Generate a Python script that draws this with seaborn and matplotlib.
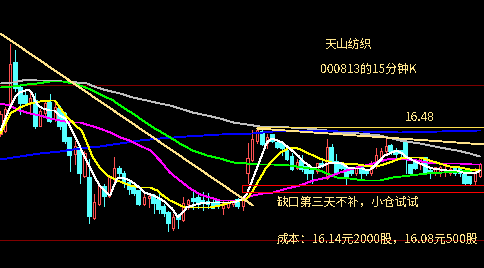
import matplotlib
matplotlib.use("Agg")
import matplotlib.pyplot as plt
from matplotlib.patches import Rectangle
import numpy as np
import pandas as pd
import seaborn as sns

# ---------------- data (15-minute bars of 000813) ----------------
opens = [16.41, 16.44, 16.72, 17.12, 16.87, 16.79, 16.72, 16.74, 16.49, 16.62,
         16.72, 16.56, 16.66, 16.61, 16.36, 16.21, 16.26, 15.99, 15.97, 15.57,
         15.71, 15.87, 15.79, 15.96, 16.06, 16.01, 15.91, 15.87, 15.84, 15.71,
         15.77, 15.77, 15.74, 15.67, 15.62, 15.46, 15.59, 15.55, 15.71, 15.76,
         15.76, 15.74, 15.72, 15.71, 15.74, 15.67, 15.68, 15.71, 15.74, 15.69,
         16.01, 16.15, 16.34, 16.42, 16.32, 16.39, 16.32, 16.31, 16.24, 16.17,
         16.07, 16.14, 16.07, 16.04, 16.04, 16.11, 15.97, 16.26, 16.12, 16.11,
         16.06, 16.04, 16.01, 16.07, 16.04, 16.01, 16.11, 16.16, 16.24, 16.29,
         16.24, 16.24, 16.33, 16.09, 16.12, 16.11, 16.16, 16.04, 16.01, 16.02,
         16.03, 16.01, 16.05, 16.06, 15.99, 15.97, 15.94, 15.99]
highs = [16.64, 16.68, 17.31, 17.25, 16.91, 16.86, 16.82, 16.82, 16.66, 16.74,
         16.81, 16.74, 16.69, 16.63, 16.38, 16.34, 16.29, 16.24, 16.16, 15.81,
         15.90, 15.91, 16.00, 16.17, 16.09, 16.04, 15.94, 15.89, 15.85, 15.81,
         15.82, 15.81, 15.81, 15.71, 15.64, 15.61, 15.61, 15.78, 15.76, 15.84,
         15.82, 15.83, 15.82, 15.78, 15.76, 15.74, 15.74, 15.75, 15.77, 15.79,
         16.32, 16.45, 16.47, 16.47, 16.41, 16.41, 16.34, 16.32, 16.27, 16.22,
         16.16, 16.19, 16.09, 16.07, 16.12, 16.14, 16.36, 16.31, 16.21, 16.13,
         16.07, 16.06, 16.09, 16.11, 16.06, 16.14, 16.27, 16.27, 16.35, 16.31,
         16.26, 16.24, 16.34, 16.11, 16.14, 16.17, 16.17, 16.06, 16.08, 16.09,
         16.09, 16.07, 16.06, 16.07, 16.02, 15.99, 16.07, 16.12]
lows = [16.39, 16.42, 16.70, 16.84, 16.61, 16.70, 16.61, 16.47, 16.49, 16.60,
        16.53, 16.54, 16.46, 16.32, 16.04, 16.11, 15.92, 15.98, 15.52, 15.56,
        15.70, 15.69, 15.78, 15.94, 15.99, 15.88, 15.81, 15.80, 15.70, 15.70,
        15.68, 15.62, 15.62, 15.59, 15.44, 15.45, 15.46, 15.54, 15.66, 15.66,
        15.67, 15.65, 15.67, 15.67, 15.67, 15.61, 15.67, 15.69, 15.67, 15.65,
        15.92, 16.14, 16.32, 16.30, 16.26, 16.33, 16.26, 16.19, 16.15, 16.05,
        16.06, 16.04, 15.96, 15.92, 16.02, 16.08, 15.96, 16.12, 16.01, 16.06,
        15.91, 16.00, 16.00, 15.97, 16.00, 16.00, 16.07, 16.14, 16.22, 16.21,
        16.17, 16.16, 16.01, 16.01, 16.06, 16.06, 16.02, 15.97, 16.00, 15.99,
        15.99, 16.00, 16.00, 15.99, 15.91, 15.91, 15.91, 15.98]
closes = [16.61, 16.66, 17.11, 16.87, 16.72, 16.72, 16.76, 16.49, 16.64, 16.72,
          16.54, 16.67, 16.49, 16.34, 16.19, 16.29, 16.01, 16.21, 15.59, 15.72,
          15.89, 15.79, 15.99, 16.07, 16.01, 15.92, 15.86, 15.82, 15.71, 15.78,
          15.79, 15.72, 15.66, 15.62, 15.52, 15.57, 15.56, 15.72, 15.75, 15.74,
          15.71, 15.72, 15.71, 15.67, 15.69, 15.72, 15.72, 15.73, 15.69, 15.75,
          16.16, 16.35, 16.44, 16.31, 16.38, 16.34, 16.28, 16.26, 16.16, 16.06,
          16.12, 16.06, 16.02, 16.02, 16.11, 16.09, 16.27, 16.14, 16.02, 16.07,
          15.97, 16.01, 16.07, 16.01, 16.01, 16.07, 16.19, 16.24, 16.29, 16.24,
          16.21, 16.22, 16.16, 16.02, 16.07, 16.16, 16.02, 16.01, 16.07, 16.07,
          16.06, 16.06, 16.01, 16.01, 15.92, 15.92, 16.01, 16.11]

# moving-average curves (bar index, price)
ma5_idx = [0, 1.9, 2.9, 3.9, 5.6, 6.4, 7.0, 7.6, 8.6, 10.0, 11.0, 12.0, 13.1, 14.1, 15.5,
           16.7, 17.7, 19.1, 20.1, 21.6, 22.2, 22.8, 23.6, 24.6, 26.2, 27.6, 29.2, 30.9,
           32.9, 34.7, 35.9, 36.9, 37.7, 38.8, 40.4, 42.4, 44.4, 47.1, 48.9, 49.9, 51.1,
           52.5, 53.9, 54.9, 56.0, 57.0, 58.0, 59.0, 60.2, 61.6, 63.0, 64.3, 65.3, 66.3,
           67.7, 69.1, 70.3, 71.8, 73.2, 74.4, 75.2, 76.4, 77.8, 79.2, 80.3, 81.3, 82.3,
           83.5, 84.9, 86.3, 87.5, 88.9, 90.4, 92.4, 93.6, 95.0, 96.4, 97]
ma5_val = [16.44, 16.67, 16.77, 16.82, 16.85, 16.81, 16.74, 16.69, 16.66, 16.64, 16.64,
           16.59, 16.56, 16.48, 16.34, 16.21, 16.11, 15.97, 15.89, 15.81, 15.79, 15.87,
           15.96, 15.97, 15.94, 15.89, 15.82, 15.79, 15.74, 15.66, 15.57, 15.62, 15.67,
           15.69, 15.71, 15.72, 15.72, 15.72, 15.75, 15.81, 15.96, 16.14, 16.32, 16.36,
           16.34, 16.32, 16.28, 16.24, 16.19, 16.12, 16.07, 16.07, 16.09, 16.11, 16.12,
           16.11, 16.07, 16.06, 16.06, 16.04, 16.06, 16.12, 16.19, 16.22, 16.24, 16.21,
           16.17, 16.14, 16.11, 16.08, 16.06, 16.05, 16.04, 16.04, 16.02, 16.01, 16.02, 16.04]

ma10_idx = [0, 2.0, 3.9, 6.0, 8.0, 10.0, 11.0, 12.0, 13.5, 14.7, 15.5, 16.1, 16.7, 17.7,
            18.7, 20.1, 21.6, 22.8, 24.2, 25.2, 26.2, 28.2, 30.3, 31.7, 32.9, 34.3, 35.7,
            36.9, 38.4, 40.4, 42.4, 44.4, 46.5, 48.5, 49.9, 51.1, 52.5, 53.7, 55.2, 56.6,
            58.6, 60.2, 61.6, 64.1, 65.7, 67.1, 69.7, 72.4, 74.8, 76.8, 78.8, 80.9, 82.9,
            84.9, 86.9, 88.9, 91.0, 93.0, 95.0, 97]
ma10_val = [16.41, 16.61, 16.67, 16.71, 16.73, 16.74, 16.74, 16.67, 16.57, 16.52, 16.47,
            16.46, 16.41, 16.29, 16.17, 16.07, 15.99, 15.96, 15.93, 15.91, 15.89, 15.87,
            15.87, 15.84, 15.79, 15.74, 15.71, 15.68, 15.67, 15.67, 15.67, 15.69, 15.72,
            15.74, 15.76, 15.84, 15.96, 16.06, 16.15, 16.22, 16.27, 16.26, 16.23, 16.17,
            16.14, 16.12, 16.11, 16.10, 16.08, 16.09, 16.12, 16.16, 16.17, 16.17, 16.14,
            16.11, 16.08, 16.07, 16.05, 16.04]

ma20_idx = [0, 1.9, 3.9, 6.0, 8.0, 10.0, 12.0, 14.1, 16.1, 18.1, 20.1, 22.2, 24.2, 26.2,
            28.2, 30.3, 32.3, 34.3, 36.3, 38.4, 40.4, 42.4, 44.4, 48.5, 49.9, 51.1, 53.1,
            55.2, 58.0, 60.6, 63.3, 66.1, 68.7, 71.4, 73.8, 75.4, 78.2, 80.3, 82.3, 84.3,
            86.3, 88.9, 93.0, 95.6, 97]
ma20_val = [16.71, 16.69, 16.64, 16.61, 16.59, 16.56, 16.54, 16.52, 16.52, 16.49, 16.46,
            16.42, 16.37, 16.34, 16.29, 16.24, 16.14, 16.02, 15.94, 15.86, 15.80, 15.77,
            15.74, 15.74, 15.77, 15.79, 15.81, 15.82, 15.86, 15.89, 15.94, 15.97, 16.02,
            16.06, 16.09, 16.11, 16.15, 16.16, 16.15, 16.14, 16.12, 16.11, 16.11, 16.10, 16.10]

ma30_idx = [0, 2.5, 5.4, 7.4, 10.0, 12.6, 14.7, 16.7, 18.7, 20.7, 22.8, 24.8, 26.8, 28.8,
            30.9, 33.7, 36.3, 38.9, 41.8, 44.4, 47.1, 49.9, 52.5, 55.2, 58.6, 61.2, 64.1,
            66.1, 68.1, 70.7, 73.8, 76.8, 79.4, 82.9, 86.3, 89.6, 93.0, 95.6, 97]
ma30_val = [16.87, 16.88, 16.90, 16.91, 16.93, 16.93, 16.91, 16.88, 16.84, 16.79, 16.74,
            16.67, 16.61, 16.54, 16.47, 16.39, 16.31, 16.24, 16.19, 16.16, 16.12, 16.11,
            16.10, 16.10, 16.09, 16.07, 16.05, 16.01, 15.97, 15.96, 15.94, 15.94, 15.97,
            15.99, 16.01, 16.02, 16.03, 16.04, 16.05]

ma60_idx = [0, 2.5, 5.4, 7.4, 10.0, 12.6, 15.5, 17.5, 19.5, 21.6, 24.2, 26.8, 29.6, 32.3,
            34.3, 36.3, 38.9, 41.8, 44.4, 47.1, 49.9, 52.5, 55.2, 62.0, 66.1, 68.7, 72.8,
            76.8, 80.9, 84.9, 88.9, 92.4, 95.0, 97]
ma60_val = [16.91, 16.92, 16.95, 16.94, 16.94, 16.93, 16.92, 16.91, 16.87, 16.84, 16.81,
            16.77, 16.74, 16.71, 16.69, 16.66, 16.62, 16.59, 16.56, 16.52, 16.50, 16.48,
            16.48, 16.46, 16.44, 16.42, 16.41, 16.39, 16.34, 16.31, 16.27, 16.24, 16.21, 16.18]

ma120_idx = [0, 3.9, 8.0, 12.0, 16.1, 20.1, 24.2, 28.2, 32.3, 37.7, 44.4, 51.1, 55.2,
             62.0, 68.7, 72.8, 80.9, 88.9, 97]
ma120_val = [16.15, 16.18, 16.21, 16.23, 16.26, 16.28, 16.31, 16.34, 16.36, 16.38, 16.40,
             16.41, 16.43, 16.44, 16.43, 16.43, 16.42, 16.43, 16.44]

# drawn studies
trend_down_idx = [0, 51.1]
trend_down_val = [17.41, 15.69]
trend_top_idx = [51.9, 98.1]
trend_top_val = [16.46, 16.30]
resist_level = 16.48
resist_start = 51.9
grid_levels = [16.90, 15.35]
gap_start, gap_end = 48.9, 97.9
gap_low, gap_high = 15.83, 15.89

title_name = "天山纺织"
title_sub = "000813的15分钟K"
resist_label = "16.48"
note1 = "缺口第三天不补，小仓试试"
note2 = "成本：16.14元2000股，16.08元500股"

# ---------------- drawing ----------------
sns.set_style("dark", {"axes.facecolor": "black", "figure.facecolor": "black"})
plt.rcParams['font.family'] = ['Noto Sans CJK SC', 'DejaVu Sans']
plt.rcParams['lines.antialiased'] = False
plt.rcParams['patch.antialiased'] = False
plt.rcParams['text.antialiased'] = False

UP = '#FF5252'
DOWN = '#54FFFF'
TXT = '#FFE68C'
PALE = '#FFE38A'
LW = 0.62

fig = plt.figure(figsize=(4.85, 2.68), dpi=100)
ax = fig.add_axes([0, 0, 1, 1])
ax.set_facecolor('black')
ax.set_xlim(-0.101, 98.07)
ax.set_ylim(15.065, 17.745)
ax.axis('off')

df = pd.DataFrame({'o': opens, 'h': highs, 'l': lows, 'c': closes})
df['i'] = np.arange(len(df))
up = df[df.c >= df.o]
dn = df[df.c < df.o]

for lv in grid_levels:
    ax.axhline(lv, color='#800000', lw=0.72, zorder=1)

# down candles: full wick + filled body
ax.vlines(dn.i, dn.l, dn.h, color=DOWN, lw=LW, zorder=2)
ax.bar(dn.i, (dn.o - dn.c).clip(lower=0.008), bottom=dn.c, width=0.58,
       color=DOWN, edgecolor=DOWN, linewidth=0.3, zorder=3)
# up candles: hollow body, wicks outside body
ax.vlines(up.i, up.c, up.h, color=UP, lw=LW, zorder=2)
ax.vlines(up.i, up.l, up.o, color=UP, lw=LW, zorder=2)
ax.bar(up.i, (up.c - up.o).clip(lower=0.008), bottom=up.o, width=0.42,
       facecolor='black', edgecolor=UP, linewidth=LW, zorder=3)

lines = [(ma60_idx, ma60_val, '#C0C0C0'), (ma120_idx, ma120_val, '#0000FF'),
         (ma30_idx, ma30_val, '#00FF00'), (ma20_idx, ma20_val, '#FF00FF'),
         (ma10_idx, ma10_val, '#FFFF00'), (ma5_idx, ma5_val, '#FFFFFF')]
for xs, ys, col in lines:
    sns.lineplot(x=xs, y=ys, ax=ax, color=col, linewidth=LW, estimator=None,
                 sort=False, legend=False, zorder=5)

sns.lineplot(x=trend_down_idx, y=trend_down_val, ax=ax, color=PALE, linewidth=LW,
             estimator=None, sort=False, legend=False, zorder=6)
sns.lineplot(x=trend_top_idx, y=trend_top_val, ax=ax, color=PALE, linewidth=LW,
             estimator=None, sort=False, legend=False, zorder=6)
ax.hlines(resist_level, resist_start, 98.1, color='#FFE050', lw=LW, zorder=6)

ax.add_patch(Rectangle((gap_start, gap_low), gap_end - gap_start, gap_high - gap_low,
                       fill=False, edgecolor='#FF0000', lw=0.72, zorder=7))

fs = 8.6
ax.text(0.670, 0.834, title_name, transform=ax.transAxes, color=TXT, fontsize=fs,
        ha='left', va='center')
ax.text(0.660, 0.741, title_sub, transform=ax.transAxes, color=TXT, fontsize=fs,
        ha='left', va='center')
ax.text(0.835, 0.563, resist_label, transform=ax.transAxes, color=TXT, fontsize=fs,
        ha='left', va='center')
ax.text(0.571, 0.246, note1, transform=ax.transAxes, color=TXT, fontsize=fs,
        ha='left', va='center')
ax.text(0.571, 0.108, note2, transform=ax.transAxes, color=TXT, fontsize=fs,
        ha='left', va='center')

fig.savefig('out.png', dpi=100, facecolor='black')
